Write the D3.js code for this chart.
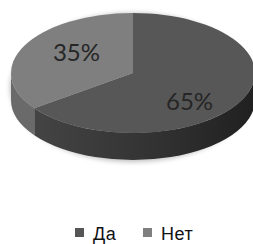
<!DOCTYPE html>
<html>
<head>
<meta charset="utf-8">
<script src="https://cdn.jsdelivr.net/npm/d3@7"></script>
<style>
  body { margin: 0; background: #fff; }
  svg { display: block; }
</style>
</head>
<body>
<script>
// data
var categories = ["Да", "Нет"];
var values = [65, 35];
var labels = ["65%", "35%"];

var width = 253, height = 244;
var cx = 133, cy = 73, rx = 122, ry = 60, depth = 27;

var topColor = d3.scaleOrdinal().domain(categories).range(["#575757", "#7f7f7f"]);
var sideColor = d3.scaleOrdinal().domain(categories).range(["url(#sideDa)", "#6a6a6a"]);
var legendColor = d3.scaleOrdinal().domain(categories).range(["#555555", "#7f7f7f"]);

var svg = d3.select("body").append("svg")
    .attr("width", width)
    .attr("height", height);

var defs = svg.append("defs");
var grad = defs.append("linearGradient")
    .attr("id", "sideDa")
    .attr("x1", "0%").attr("x2", "100%")
    .attr("y1", "0%").attr("y2", "0%");
grad.append("stop").attr("offset", "0%").attr("stop-color", "#444444");
grad.append("stop").attr("offset", "55%").attr("stop-color", "#323232");
grad.append("stop").attr("offset", "100%").attr("stop-color", "#202020");

// soft shadow like excel
defs.append("filter")
    .attr("id", "blur")
    .attr("x", "-20%").attr("y", "-20%").attr("width", "140%").attr("height", "140%")
    .append("feGaussianBlur").attr("stdDeviation", 2.5);

var pie = d3.pie().sort(null).value(function(d) { return d; });
var arcs = pie(values);

// point on ellipse, angle clockwise from top
function pt(a, dy) {
    return [cx + rx * Math.sin(a), cy - ry * Math.cos(a) + (dy || 0)];
}

function sidePath(d) {
    var s = Math.max(d.startAngle, Math.PI / 2);
    var e = Math.min(d.endAngle, 3 * Math.PI / 2);
    if (e <= s) return null;
    var p0 = pt(s), p1 = pt(e), p2 = pt(e, depth), p3 = pt(s, depth);
    var large = (e - s) > Math.PI ? 1 : 0;
    return "M" + p0 + "A" + rx + "," + ry + " 0 " + large + " 1 " + p1 +
        "L" + p2 + "A" + rx + "," + ry + " 0 " + large + " 0 " + p3 + "Z";
}

function topPath(d) {
    var p0 = pt(d.startAngle), p1 = pt(d.endAngle);
    var large = (d.endAngle - d.startAngle) > Math.PI ? 1 : 0;
    return "M" + cx + "," + cy + "L" + p0 + "A" + rx + "," + ry + " 0 " + large + " 1 " + p1 + "Z";
}

var g = svg.append("g");

// shadow under the pie
g.append("ellipse")
    .attr("cx", cx)
    .attr("cy", cy + depth / 2 + 1)
    .attr("rx", rx + 1)
    .attr("ry", ry + depth / 2 + 1)
    .style("fill", "#000")
    .style("opacity", 0.25)
    .attr("filter", "url(#blur)");

// sides
g.selectAll(".side")
    .data(arcs.filter(function(d) { return sidePath(d) !== null; }))
    .enter().append("path")
    .attr("class", "side")
    .attr("d", sidePath)
    .style("fill", function(d) { return sideColor(categories[d.index]); });

// tops
g.selectAll(".top")
    .data(arcs)
    .enter().append("path")
    .attr("class", "top")
    .attr("d", topPath)
    .style("fill", function(d) { return topColor(categories[d.index]); });

// labels
g.selectAll(".lbl")
    .data(arcs)
    .enter().append("text")
    .attr("x", function(d) {
        var m = (d.startAngle + d.endAngle) / 2;
        return cx + rx * 0.52 * Math.sin(m);
    })
    .attr("y", function(d) {
        var m = (d.startAngle + d.endAngle) / 2;
        return cy - ry * 0.9 * Math.cos(m) + 3;
    })
    .attr("text-anchor", "middle")
    .attr("dominant-baseline", "central")
    .style("font-family", "Lato, 'Open Sans', sans-serif")
    .style("font-size", "24px")
    .style("fill", "#262626")
    .text(function(d) { return labels[d.index]; });

// legend
var legendX = d3.scalePoint().domain(categories).range([75, 143]);
var leg = svg.selectAll(".leg")
    .data(categories)
    .enter().append("g")
    .attr("class", "leg")
    .attr("transform", function(d) { return "translate(" + legendX(d) + ",228)"; });

leg.append("rect")
    .attr("width", 9)
    .attr("height", 9)
    .style("fill", function(d) { return legendColor(d); });

leg.append("text")
    .attr("x", 18)
    .attr("y", 12)
    .style("font-family", "'Liberation Sans', Arial, sans-serif")
    .style("font-size", "18px")
    .style("letter-spacing", "0.5px")
    .style("fill", "#111")
    .text(function(d) { return d; });
</script>
</body>
</html>
